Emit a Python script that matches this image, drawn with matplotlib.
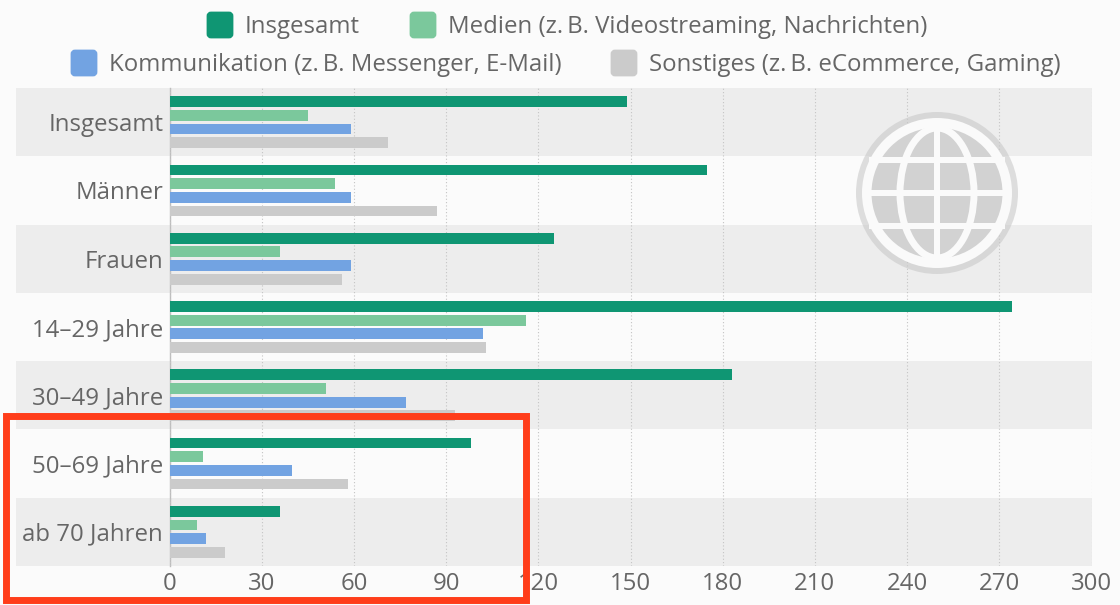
import matplotlib.pyplot as plt
import numpy as np
from matplotlib.patches import Circle, Ellipse, FancyBboxPatch, Rectangle

categories = ["Insgesamt", "Männer", "Frauen", "14–29 Jahre", "30–49 Jahre", "50–69 Jahre", "ab 70 Jahren"]
series_names = [
    "Insgesamt",
    "Medien (z.\u2009B. Videostreaming, Nachrichten)",
    "Kommunikation (z.\u2009B. Messenger, E-Mail)",
    "Sonstiges (z.\u2009B. eCommerce, Gaming)",
]
total_values = [149, 175, 125, 274, 183, 98, 36]
media_values = [45, 54, 36, 116, 51, 11, 9]
communication_values = [59, 59, 59, 102, 77, 40, 12]
other_values = [71, 87, 56, 103, 93, 58, 18]
x_ticks = [0, 30, 60, 90, 120, 150, 180, 210, 240, 270, 300]

colors = ["#0F9673", "#7BC89C", "#72A3E2", "#CBCBCB"]
text_color = "#666666"
background = "#FBFBFB"
band_color = "#EDEDED"

W, H = 1120, 605
plt.rcParams["font.family"] = ["Open Sans", "DejaVu Sans"]

fig = plt.figure(figsize=(W / 100, H / 100), dpi=100, facecolor=background)
ax = fig.add_axes([169.5 / W, 1 - 566 / H, 922 / W, 478 / H], facecolor="none")

# Streifen hinter den Balken
band_left = (16 - 169.5) / 922
for i in range(0, len(categories), 2):
    ax.axhspan(i, i + 1, xmin=band_left, xmax=1, color=band_color, lw=0, zorder=0, clip_on=False)

# Balken
y = np.arange(len(categories))
all_values = [total_values, media_values, communication_values, other_values]
bar_height = 0.158
for k, values in enumerate(all_values):
    ax.barh(y + 0.5 + (k - 1.5) * 0.2, values, height=bar_height, color=colors[k], zorder=3)

ax.set_xlim(0, 300)
ax.set_ylim(len(categories), 0)
ax.set_xticks(x_ticks)
ax.set_yticks(y + 0.5)
ax.set_yticklabels(categories)
ax.tick_params(axis="both", length=0, labelsize=17.3, labelcolor=text_color)
ax.tick_params(axis="y", pad=4.5)
ax.tick_params(axis="x", pad=4)
ax.grid(True, axis="x", color="#C4C4C4", linestyle=(0, (1, 2)), linewidth=0.8, zorder=1)
ax.set_axisbelow(False)
for side in ["top", "right", "bottom"]:
    ax.spines[side].set_visible(False)
ax.spines["left"].set_color("#BDBDBD")
ax.spines["left"].set_linewidth(1)
ax.spines["left"].set_zorder(2)

# Ebene in Pixeln fuer Legende, Globus und roten Rahmen
overlay = fig.add_axes([0, 0, 1, 1], facecolor="none")
overlay.set_xlim(0, W)
overlay.set_ylim(H, 0)
overlay.axis("off")

legend_rows = [(207, 25, 0), (410, 25, 1), (71, 63, 2), (611, 63, 3)]
for x0, yc, k in legend_rows:
    overlay.add_patch(
        FancyBboxPatch(
            (x0 + 1, yc - 12), 24, 24,
            boxstyle="round,pad=0,rounding_size=3",
            mutation_aspect=1, facecolor=colors[k], edgecolor=colors[k], linewidth=2,
        )
    )
    overlay.text(x0 + 38, yc + 2, series_names[k], fontsize=17.3, color=text_color, va="center", ha="left")

# Globus
cx, cy = 937, 193
overlay.add_patch(Circle((cx, cy), 81, facecolor="#C9C9C9", alpha=0.6, linewidth=0))
overlay.add_patch(Circle((cx, cy), 75, facecolor="#FAFAFA", linewidth=0))
overlay.add_patch(Circle((cx, cy), 65.5, facecolor="#D2D2D2", linewidth=0))
overlay.add_patch(Ellipse((cx, cy), 74, 130, facecolor="none", edgecolor="#FAFAFA", linewidth=5))
for offset in [-33, 0, 33]:
    overlay.add_patch(Rectangle((cx - 68, cy + offset - 3), 136, 6, facecolor="#FAFAFA", linewidth=0))
overlay.add_patch(Rectangle((cx - 3, cy - 68), 6, 136, facecolor="#FAFAFA", linewidth=0))

# roter Rahmen
overlay.add_patch(Rectangle((6, 416), 520, 184, facecolor="none", edgecolor="#FF3D1A", linewidth=5))

fig.savefig("out.png", dpi=100, facecolor=background)
plt.close(fig)
